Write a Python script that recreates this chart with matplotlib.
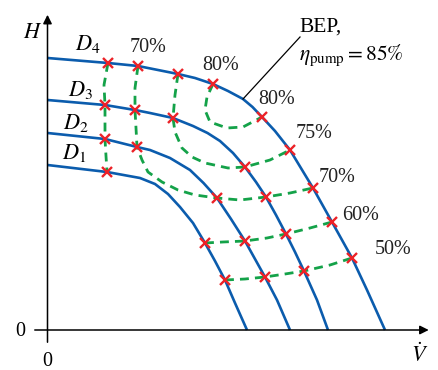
import matplotlib
matplotlib.use('Agg')
import matplotlib.pyplot as plt

plt.rcParams['font.family'] = ['Liberation Serif', 'DejaVu Serif']
plt.rcParams['mathtext.fontset'] = 'stix'

# pump head curves, flow rate V vs head H, one per impeller diameter
d4_v = [0, 60.5, 90.5, 130.5, 147.5, 165.5, 180.5, 195.5, 205, 214.5, 227.5, 242.5, 265.5, 284.5, 304.5, 319.5, 337.5]
d4_h = [272, 267, 264, 256, 252, 246, 239, 231, 223, 213, 199, 180, 142, 108, 72, 40, 0]
d3_v = [0, 57.5, 87.5, 102.5, 125.5, 145.5, 160, 172.5, 185.5, 197.5, 208.5, 218.5, 228.5, 238.5, 247.5, 256.5, 269.5, 280.5]
d3_h = [230, 225, 220, 217, 212, 204, 197, 189, 177, 163, 148, 133, 115, 96, 78, 59, 30, 0]
d2_v = [0, 57.5, 89.5, 102.5, 122.5, 142.5, 156, 169.5, 183.5, 197.5, 217.5, 229.5, 242.5]
d2_h = [197, 191, 183, 180, 172, 160, 147, 132, 111, 89, 53, 30, 0]
d1_v = [0, 59.5, 92.5, 107.5, 120.5, 132.5, 145.5, 157.5, 167.5, 177.5, 187.5, 199.5]
d1_h = [165, 158, 152, 146, 136, 123, 107, 87, 69, 50, 27, 0]
curve_labels = ['$D_4$', '$D_3$', '$D_2$', '$D_1$']

# efficiency contours
eff_left_v = [60.5, 56.5, 57.5, 57.5, 57.5, 58.5, 59.5]
eff_left_h = [267, 245, 225, 208, 191, 174, 158]
eff70_v = [90.5, 87.5, 87.5, 88.5, 89.5, 94.5, 100.5, 114.5, 130.5, 147.5, 169.5, 192.5, 218.5, 242.5, 265.5]
eff70_h = [264, 242, 220, 202, 183, 170, 158, 148, 140, 135, 132, 130, 133, 137, 142]
eff75_v = [130.5, 127.5, 125.5, 127.5, 134.5, 144.5, 157.5, 180.5, 197.5, 222.5, 242.5]
eff75_h = [256, 235, 212, 198, 182, 173, 167, 162, 163, 170, 180]
eff80_v = [165.5, 159.5, 157.5, 162.5, 179.5, 195.5, 214.5]
eff80_h = [246, 233, 220, 208, 202, 203, 213]
eff60_v = [157.5, 175.5, 197.5, 219.5, 238.5, 262.5, 284.5]
eff60_h = [87, 88, 89, 92, 96, 102, 108]
eff50_v = [177.5, 197.5, 217.5, 237.5, 256.5, 282.5, 304.5]
eff50_h = [50, 51, 53, 56, 59, 65, 72]

# crossing points marked with x
mark_v = [60.5, 90.5, 130.5, 165.5, 214.5, 242.5, 265.5, 284.5, 304.5,
          57.5, 87.5, 125.5, 197.5, 218.5, 238.5, 256.5,
          57.5, 89.5, 169.5, 197.5, 217.5,
          59.5, 157.5, 177.5]
mark_h = [267, 264, 256, 246, 213, 180, 142, 108, 72,
          225, 220, 212, 163, 133, 96, 59,
          191, 183, 132, 89, 53,
          158, 87, 50]

bep_v, bep_h = 195.5, 231

BLUE = '#0b5cad'
GREEN = '#14a249'
RED = '#ec2228'

fig = plt.figure(figsize=(4.39, 3.70), dpi=100)
ax = fig.add_axes([0, 0, 1, 1])
ax.set_xlim(-47.5, 391.5)
ax.set_ylim(-40, 330)
ax.axis('off')

# axes with arrows
ax.annotate('', xy=(384, 0), xytext=(-15.5, 0),
            arrowprops=dict(arrowstyle='-|>', lw=1.1, color='black', mutation_scale=13))
ax.annotate('', xy=(0, 318), xytext=(0, -15),
            arrowprops=dict(arrowstyle='-|>', lw=1.1, color='black', mutation_scale=13))

for v, h in [(d4_v, d4_h), (d3_v, d3_h), (d2_v, d2_h), (d1_v, d1_h)]:
    ax.plot(v, h, color=BLUE, lw=1.9, solid_capstyle='butt', solid_joinstyle='round')

for v, h in [(eff_left_v, eff_left_h), (eff70_v, eff70_h), (eff75_v, eff75_h),
             (eff80_v, eff80_h), (eff60_v, eff60_h), (eff50_v, eff50_h)]:
    ax.plot(v, h, color=GREEN, lw=2.0, dashes=(3.2, 2.2))

ax.plot(mark_v, mark_h, 'x', color=RED, ms=7, mew=1.7, zorder=5)

# BEP leader
ax.plot([bep_v, 252.5], [bep_h, 293], color='black', lw=0.9)
ax.text(251.5, 303, 'BEP,', fontsize=15.5, ha='left', va='center')
ax.text(251.5, 275, r'$\eta_{\mathrm{pump}} = 85\%$', fontsize=15.5, ha='left', va='center')

fs = 14.5
for (x, y), s in zip([(40.5, 286), (32.5, 240), (28.5, 207), (26.5, 177)], curve_labels):
    ax.text(x, y, s, fontsize=16, ha='center', va='center')

for x, y, s in [(100.5, 282, '70%'), (173.5, 264, '80%'), (229.5, 230, '80%'),
                (266.5, 197, '75%'), (289.5, 152, '70%'), (313.5, 114, '60%'),
                (345.5, 80, '50%')]:
    ax.text(x, y, s, fontsize=fs, ha='center', va='center', color='#222222')

ax.text(-14.5, 296, '$H$', fontsize=16, ha='center', va='center')
ax.text(-27.5, -2, '0', fontsize=fs, ha='center', va='center')
ax.text(0, -32, '0', fontsize=fs, ha='center', va='center')
ax.text(372.5, -25, r'$\dot{V}$', fontsize=16, ha='center', va='center')

fig.savefig('out.png', dpi=100)
